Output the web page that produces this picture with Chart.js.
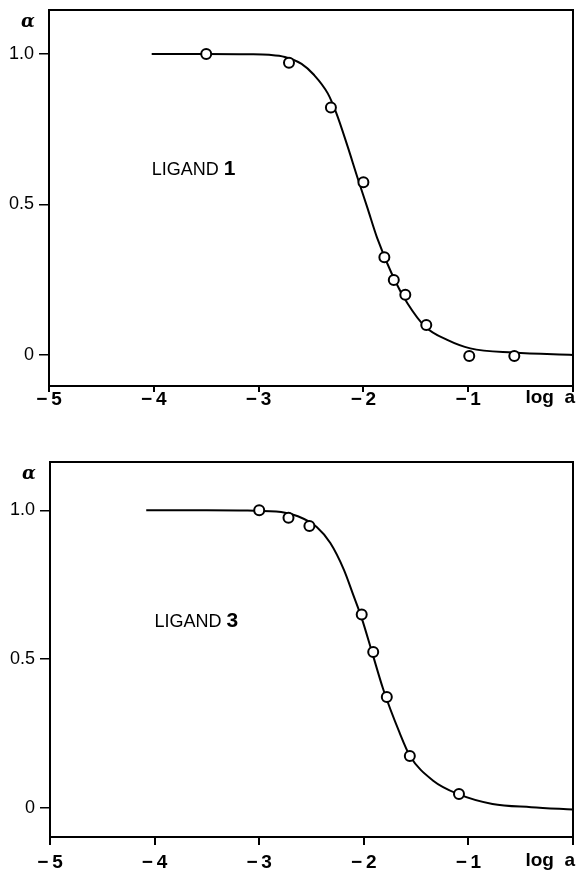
<!DOCTYPE html>
<html>
<head>
<meta charset="utf-8">
<script src="https://cdn.jsdelivr.net/npm/chart.js@4.4.1/dist/chart.umd.min.js"></script>
<style>
body{margin:0;background:#fff;}
#wrap{position:relative;width:580px;height:873px;}
#c1{position:absolute;left:0;top:0;}
#c3{position:absolute;left:0;top:430px;}
</style>
</head>
<body>
<div id="wrap">
<canvas id="c1" width="580" height="420"></canvas>
<canvas id="c3" width="580" height="443"></canvas>
</div>
<script>
// axis ticks, same on both panels
const xTicks = [-5, -4, -3, -2, -1, 0];
const yTicks = [0, 0.5, 1.0];

// ligand 1: measured points
const lig1PointX = [-3.50, -2.71, -2.31, -2.00, -1.80, -1.71, -1.60, -1.40, -0.99, -0.56];
const lig1PointY = [1.00, 0.971, 0.822, 0.574, 0.325, 0.249, 0.200, 0.100, -0.003, -0.003];
// ligand 1: fitted curve
const lig1CurveX = [-4.02, -3.50, -3.10, -2.90, -2.75, -2.59, -2.47, -2.34, -2.26, -2.15, -2.06, -1.96, -1.87, -1.71, -1.58, -1.41, -1.20, -0.98, -0.57, 0.00];
const lig1CurveY = [1.000, 1.000, 0.999, 0.997, 0.990, 0.967, 0.930, 0.869, 0.805, 0.692, 0.593, 0.487, 0.390, 0.255, 0.172, 0.094, 0.050, 0.022, 0.008, 0.000];

// ligand 3: measured points
const lig3PointX = [-3.00, -2.72, -2.52, -2.02, -1.91, -1.78, -1.56, -1.09];
const lig3PointY = [1.000, 0.975, 0.947, 0.650, 0.524, 0.373, 0.175, 0.047];
// ligand 3: fitted curve
const lig3CurveX = [-4.08, -3.50, -3.11, -2.79, -2.63, -2.45, -2.32, -2.19, -2.10, -2.02, -1.92, -1.815, -1.66, -1.56, -1.34, -1.09, -0.77, -0.40, 0.00];
const lig3CurveY = [1.000, 1.000, 0.999, 0.994, 0.980, 0.944, 0.890, 0.800, 0.715, 0.638, 0.522, 0.400, 0.255, 0.176, 0.093, 0.046, 0.014, 0.003, -0.005];

function pairs(xs, ys){
    return xs.map(function(x, i){ return {x: x, y: ys[i]}; });
}

const panelPlugin = {
    id: "panel",
    afterDraw: function(chart, args, opts){
        const ctx = chart.ctx;
        const a = chart.chartArea;
        const sx = chart.scales.x;
        const sy = chart.scales.y;
        ctx.save();
        ctx.strokeStyle = "#000";
        ctx.lineWidth = 2;
        ctx.beginPath();
        ctx.moveTo(a.left, a.top);
        ctx.lineTo(a.right, a.top);
        ctx.lineTo(a.right, a.bottom);
        ctx.stroke();
        ctx.fillStyle = "#000";
        // alpha symbol
        ctx.font = "italic bold 18px 'DejaVu Serif'";
        ctx.textAlign = "center";
        ctx.textBaseline = "middle";
        ctx.fillText("α", a.left - 21, a.top + 12);
        // ligand label
        const lx = sx.getPixelForValue(opts.labelX);
        const ly = sy.getPixelForValue(opts.labelY);
        ctx.textAlign = "left";
        ctx.textBaseline = "alphabetic";
        ctx.font = "18px 'Liberation Sans'";
        ctx.fillText("LIGAND", lx, ly + 8);
        const w = ctx.measureText("LIGAND ").width;
        ctx.font = "bold 21px 'Liberation Sans'";
        ctx.fillText(opts.name, lx + w, ly + 8);
        // x axis name in place of the 0 label
        ctx.font = "bold 19px 'Liberation Sans'";
        ctx.textAlign = "right";
        ctx.textBaseline = "top";
        ctx.fillText("log  a", sx.getPixelForValue(0) + 2, a.bottom + opts.labelGap);
        ctx.restore();
    }
};

function noPad(s){
    s.paddingTop = 0;
    s.paddingBottom = 0;
    s.paddingLeft = 0;
    s.paddingRight = 0;
}

function makeChart(id, pts, curve, conf){
    const canvas = document.getElementById(id);
    return new Chart(canvas.getContext("2d"), {
        data: {
            datasets: [
                {
                    type: "scatter",
                    data: pts,
                    pointRadius: 5,
                    pointBorderWidth: 2,
                    pointBackgroundColor: "#fff",
                    pointBorderColor: "#000",
                    clip: false
                },
                {
                    type: "line",
                    data: curve,
                    borderColor: "#000",
                    borderWidth: 2,
                    pointRadius: 0,
                    cubicInterpolationMode: "monotone",
                    fill: false
                }
            ]
        },
        options: {
            responsive: false,
            animation: false,
            layout: {padding: {top: conf.top, right: conf.right, left: 0, bottom: 0}},
            plugins: {
                legend: {display: false},
                tooltip: {enabled: false},
                panel: {name: conf.name, labelX: conf.labelX, labelY: conf.labelY, labelGap: conf.xGap + conf.xTick}
            },
            scales: {
                x: {
                    type: "linear",
                    min: -5,
                    max: 0,
                    afterBuildTicks: function(s){ s.ticks = xTicks.map(function(v){ return {value: v}; }); },
                    afterFit: function(s){ s.height = conf.xHeight; noPad(s); },
                    border: {display: true, color: "#000", width: 2},
                    grid: {drawOnChartArea: false, color: "#000", lineWidth: 2, tickLength: conf.xTick},
                    ticks: {
                        color: "#000",
                        padding: conf.xGap,
                        maxRotation: 0,
                        font: {family: "'Liberation Sans'", size: 19, weight: "bold"},
                        callback: function(v){ return v === 0 ? "" : "\u2212\u2009" + Math.abs(v); }
                    }
                },
                y: {
                    type: "linear",
                    min: conf.ymin,
                    max: conf.ymax,
                    afterBuildTicks: function(s){ s.ticks = yTicks.map(function(v){ return {value: v}; }); },
                    afterFit: function(s){ s.width = conf.yWidth; noPad(s); },
                    border: {display: true, color: "#000", width: 2},
                    grid: {drawOnChartArea: false, color: "#000", lineWidth: 1.5, tickLength: 10},
                    ticks: {
                        color: "#000",
                        padding: 5,
                        font: {family: "'Liberation Sans'", size: 18},
                        callback: function(v){ return v === 0 ? "0" : v.toFixed(1); }
                    }
                }
            }
        },
        plugins: [panelPlugin]
    });
}

document.addEventListener("DOMContentLoaded", function(){
    makeChart("c1", pairs(lig1PointX, lig1PointY), pairs(lig1CurveX, lig1CurveY), {
        name: "1", labelX: -4.02, labelY: 0.625,
        top: 10, right: 3, xHeight: 34, yWidth: 49, xTick: 6, xGap: -4,
        ymin: -0.103, ymax: 1.146
    });
    makeChart("c3", pairs(lig3PointX, lig3PointY), pairs(lig3CurveX, lig3CurveY), {
        name: "3", labelX: -4.0, labelY: 0.634,
        top: 32, right: 2, xHeight: 36, yWidth: 50, xTick: 8, xGap: 6,
        ymin: -0.097, ymax: 1.162
    });
});
</script>
</body>
</html>
